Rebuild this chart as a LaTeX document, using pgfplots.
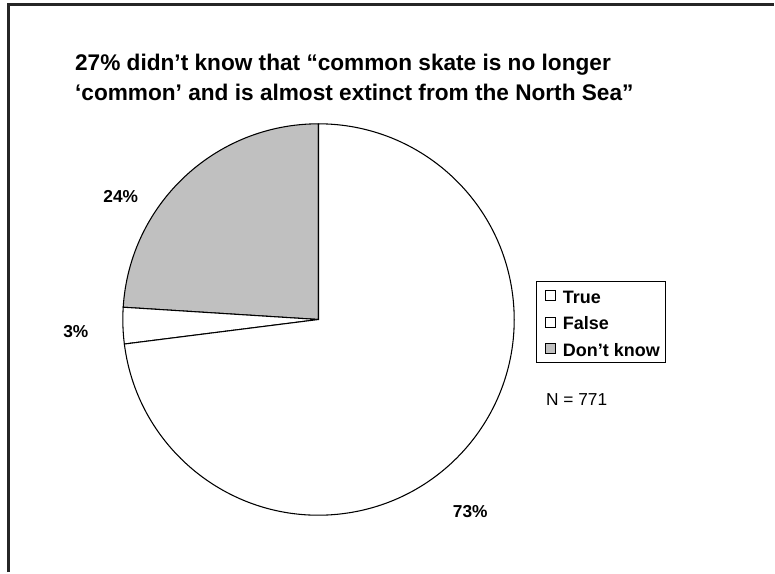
\documentclass[border=0pt]{standalone}
\usepackage{pgfplots}
\pgfplotsset{compat=1.18}
\usepackage{fontspec}
\setmainfont{Liberation Sans}
\definecolor{pieGray}{RGB}{192,192,192}
\begin{document}
\begin{tikzpicture}
% values (percent): True, False, Don't know
\def\vTrue{73}
\def\vFalse{3}
\def\vDK{24}
\pgfmathsetmacro{\aA}{90}
\pgfmathsetmacro{\aB}{\aA+\vDK*3.6}
\pgfmathsetmacro{\aC}{\aB+\vFalse*3.6}
\pgfmathsetmacro{\aD}{\aC+\vTrue*3.6}
\begin{axis}[
  scale only axis, width=581.25pt, height=429.75pt,
  xmin=0, xmax=775, ymin=0, ymax=573, y dir=reverse,
  hide axis, clip=false,
  legend style={at={(axis cs:537,281)}, anchor=north west, draw=black, line width=0.8pt,
    font=\bfseries\fontsize{13.5}{16}\selectfont, row sep=2.9pt, column sep=3pt, inner sep=2pt,
    nodes={text height=12.5pt, text depth=0.5pt, inner sep=2pt}},
  legend cell align=left,
  legend image code/.code={\path (0pt,0pt); \draw[#1, line width=0.6pt] (4.5pt,-4.1pt) rectangle (12pt,3.4pt);},
]
\addlegendimage{draw=black, fill=white}
\addlegendentry{True}
\addlegendimage{draw=black, fill=white}
\addlegendentry{False}
\addlegendimage{draw=black, fill=pieGray}
\addlegendentry{Don't know}
% page extent
\path (axis cs:0,0) (axis cs:775,573);
% frame
\draw[line width=1.8pt, black!85] (axis cs:8.7,573) -- (axis cs:8.7,4.7) -- (axis cs:775,4.7);
% slices
\filldraw[fill=pieGray, draw=black, line width=0.8pt] (axis cs:319,320) -- ++(\aA:147pt) arc[start angle=\aA, end angle=\aB, radius=147pt] -- cycle;
\filldraw[fill=white, draw=black, line width=0.8pt] (axis cs:319,320) -- ++(\aB:147pt) arc[start angle=\aB, end angle=\aC, radius=147pt] -- cycle;
\filldraw[fill=white, draw=black, line width=0.8pt] (axis cs:319,320) -- ++(\aC:147pt) arc[start angle=\aC, end angle=\aD, radius=147pt] -- cycle;
% labels
\node[font=\bfseries\fontsize{13}{15}\selectfont] at (axis cs:121,197) {24\%};
\node[font=\bfseries\fontsize{13}{15}\selectfont] at (axis cs:76,332) {3\%};
\node[font=\bfseries\fontsize{13}{15}\selectfont] at (axis cs:471,512) {73\%};
\node[font=\fontsize{13}{15}\selectfont] at (axis cs:577.5,400) {N = 771};
% title
\node[anchor=base west, inner sep=0pt, font=\bfseries\fontsize{17}{22}\selectfont] at (axis cs:75,71)
  {27\% didn’t know that “common skate is no longer};
\node[anchor=base west, inner sep=0pt, font=\bfseries\fontsize{17}{22}\selectfont] at (axis cs:75,101)
  {‘common’ and is almost extinct from the North Sea”};
\end{axis}
\end{tikzpicture}
\end{document}
